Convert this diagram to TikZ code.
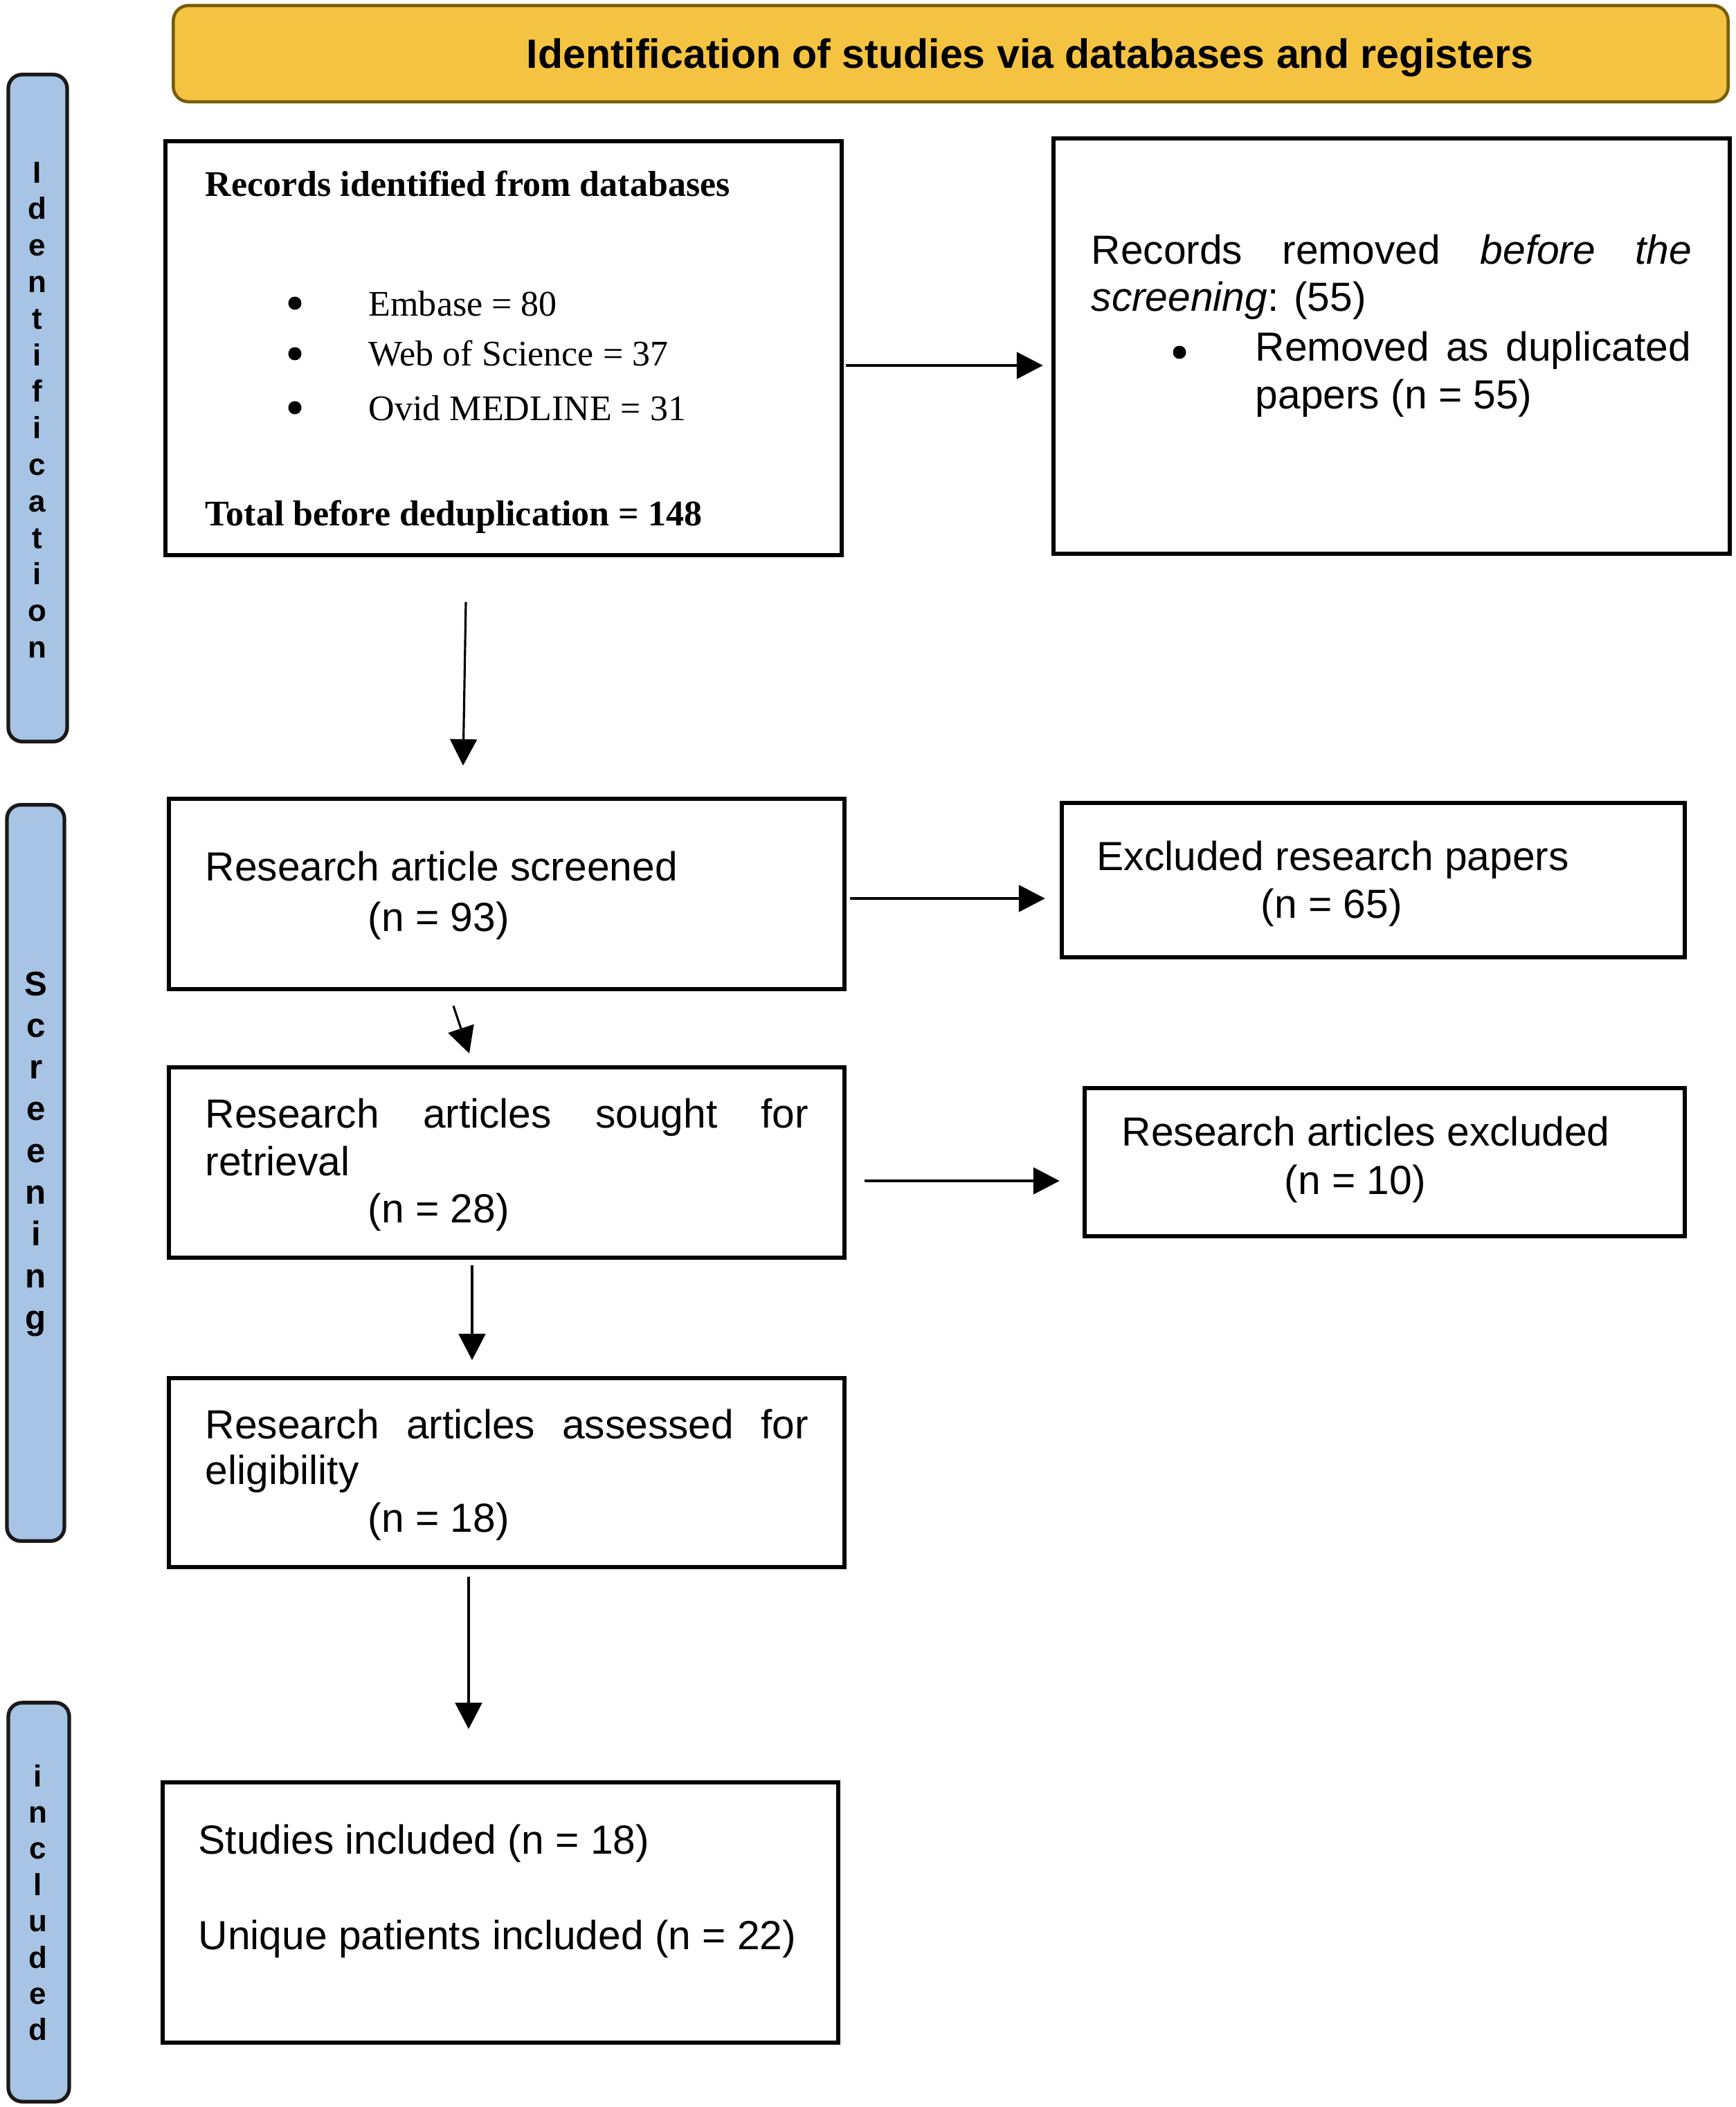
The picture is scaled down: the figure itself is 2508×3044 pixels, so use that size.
\documentclass[tikz,border=0pt]{standalone}
\usepackage{fontspec}
\setmainfont{Liberation Sans}
\newfontfamily\tmsfont{Liberation Serif}
\usetikzlibrary{arrows.meta}
\definecolor{hdrfill}{RGB}{245,195,66}
\definecolor{hdrline}{RGB}{120,92,10}
\definecolor{barfill}{RGB}{167,196,228}
\begin{document}
\begin{tikzpicture}[x=0.01cm,y=-0.01cm,
  box/.style={draw=black, line width=1.7pt, fill=white, inner sep=0pt},
  bar/.style={draw=black!90, line width=1.5pt, fill=barfill, rounded corners=0.2cm, inner sep=0pt},
  hdr/.style={draw=hdrline, line width=1.3pt, fill=hdrfill, rounded corners=0.22cm, inner sep=0pt},
  txt/.style={anchor=base west, inner sep=0pt, font=\fontsize{16.7}{20}\selectfont},
  tms/.style={anchor=base west, inner sep=0pt, font=\tmsfont\fontsize{14.8}{18}\selectfont},
  tmsb/.style={anchor=base west, inner sep=0pt, font=\tmsfont\bfseries\fontsize{14.8}{18}\selectfont},
  bul/.style={circle, fill=black, inner sep=0pt, minimum size=0.19cm},
  letA/.style={anchor=base, inner sep=0pt, font=\bfseries\fontsize{12.5}{15}\selectfont},
  letB/.style={anchor=base, inner sep=0pt, font=\bfseries\fontsize{14}{17}\selectfont},
  arr/.style={line width=0.9pt, -{Triangle[length=10.8pt,width=11pt]}}
]
\useasboundingbox[fill=white] (0,0) rectangle (2508,3044);

% header
\node[hdr, minimum width=22.45cm, minimum height=1.39cm] (hdr) at (1373.5,77.5) {};
\node[anchor=base west, inner sep=0pt, font=\bfseries\fontsize{16.8}{20}\selectfont] (hdrtxt) at (760,98) {Identification of studies via databases and registers};

% side bars
\node[bar, minimum width=0.85cm, minimum height=9.63cm] (idbar) at (54.5,589.5) {};
\node[bar, minimum width=0.83cm, minimum height=10.63cm] (scbar) at (51.5,1694.5) {};
\node[bar, minimum width=0.88cm, minimum height=5.76cm] (inbar) at (56,2748) {};
\foreach \l [count=\i from 0] in {I,d,e,n,t,i,f,i,c,a,t,i,o,n}
  \node[letA] (idl\i) at (54,264+\i*52.8) {\l};
\foreach \l [count=\i from 0] in {S,c,r,e,e,n,i,n,g}
  \node[letB] (scl\i) at (52,1438+\i*60.3) {\l};
\foreach \l [count=\i from 0] in {i,n,c,l,u,d,e,d}
  \node[letA] (inl\i) at (55,2581+\i*52.4) {\l};

% boxes
\node[box, minimum width=9.77cm, minimum height=5.97cm] (b1) at (727.5,503) {};
\node[box, minimum width=9.77cm, minimum height=6.00cm] (r1) at (2010.5,500) {};
\node[box, minimum width=9.76cm, minimum height=2.75cm] (b2) at (732,1291.5) {};
\node[box, minimum width=9.00cm, minimum height=2.23cm] (r2) at (1984,1271.5) {};
\node[box, minimum width=9.76cm, minimum height=2.75cm] (b3) at (732,1679.5) {};
\node[box, minimum width=8.67cm, minimum height=2.14cm] (r3) at (2000.5,1679) {};
\node[box, minimum width=9.76cm, minimum height=2.73cm] (b4) at (732,2127.5) {};
\node[box, minimum width=9.76cm, minimum height=3.76cm] (b5) at (723,2763) {};

% box 1 text
\node[tmsb] (t1a) at (296,283) {Records identified from databases};
\node[bul] (t1b1) at (426,438) {};
\node[bul] (t1b2) at (426,511) {};
\node[bul] (t1b3) at (426,589) {};
\node[tms] (t1b) at (532,456) {Embase = 80};
\node[tms] (t1c) at (532,528) {Web of Science = 37};
\node[tms] (t1d) at (532,607) {Ovid MEDLINE = 31};
\node[tmsb] (t1e) at (296,759) {Total before deduplication = 148};

% right box 1 text
\node[txt] (r1a) at (1576,381) {\makebox[246.7pt][s]{Records removed \textit{before} \textit{the}}};
\node[txt] (r1b) at (1576,449) {\textit{screening}: (55)};
\node[bul] (r1bul) at (1704,509) {};
\node[txt] (r1c) at (1813,521) {\makebox[179pt][s]{Removed as duplicated}};
\node[txt] (r1d) at (1813,590) {papers (n = 55)};

% box 2
\node[txt] (b2a) at (296,1272) {Research article screened};
\node[txt] (b2b) at (531,1345) {(n = 93)};
\node[txt] (r2a) at (1584,1257) {Excluded research papers};
\node[txt] (r2b) at (1821,1326) {(n = 65)};

% box 3
\node[txt] (b3a) at (296,1629) {\makebox[247.8pt][s]{Research articles sought for}};
\node[txt] (b3b) at (296,1698) {retrieval};
\node[txt] (b3c) at (531,1766) {(n = 28)};
\node[txt] (r3a) at (1620,1655) {Research articles excluded};
\node[txt] (r3b) at (1855,1725) {(n = 10)};

% box 4
\node[txt] (b4a) at (296,2078) {\makebox[247.8pt][s]{Research articles assessed for}};
\node[txt] (b4b) at (296,2144) {eligibility};
\node[txt] (b4c) at (531,2213) {(n = 18)};

% box 5
\node[txt] (b5a) at (286,2678) {Studies included (n = 18)};
\node[txt] (b5b) at (286,2816) {Unique patients included (n = 22)};

% arrows
\draw[arr] ([shift={(3,25)}]b1.east) -- ([shift={(-12,28)}]r1.west);
\draw[arr] ([shift={(-54.5,65)}]b1.south) -- ([shift={(-63,-45)}]b2.north);
\draw[arr] ([shift={(5,6.5)}]b2.east) -- ([shift={(-21,26.5)}]r2.west);
\draw[arr] ([shift={(-77,21)}]b2.south) -- ([shift={(-54,-17)}]b3.north);
\draw[arr] ([shift={(26,26.5)}]b3.east) -- ([shift={(-33,27)}]r3.west);
\draw[arr] ([shift={(-50,8)}]b3.south) -- ([shift={(-50,-23)}]b4.north);
\draw[arr] ([shift={(-55,11)}]b4.south) -- ([shift={(-46,-74)}]b5.north);
\end{tikzpicture}
\end{document}
